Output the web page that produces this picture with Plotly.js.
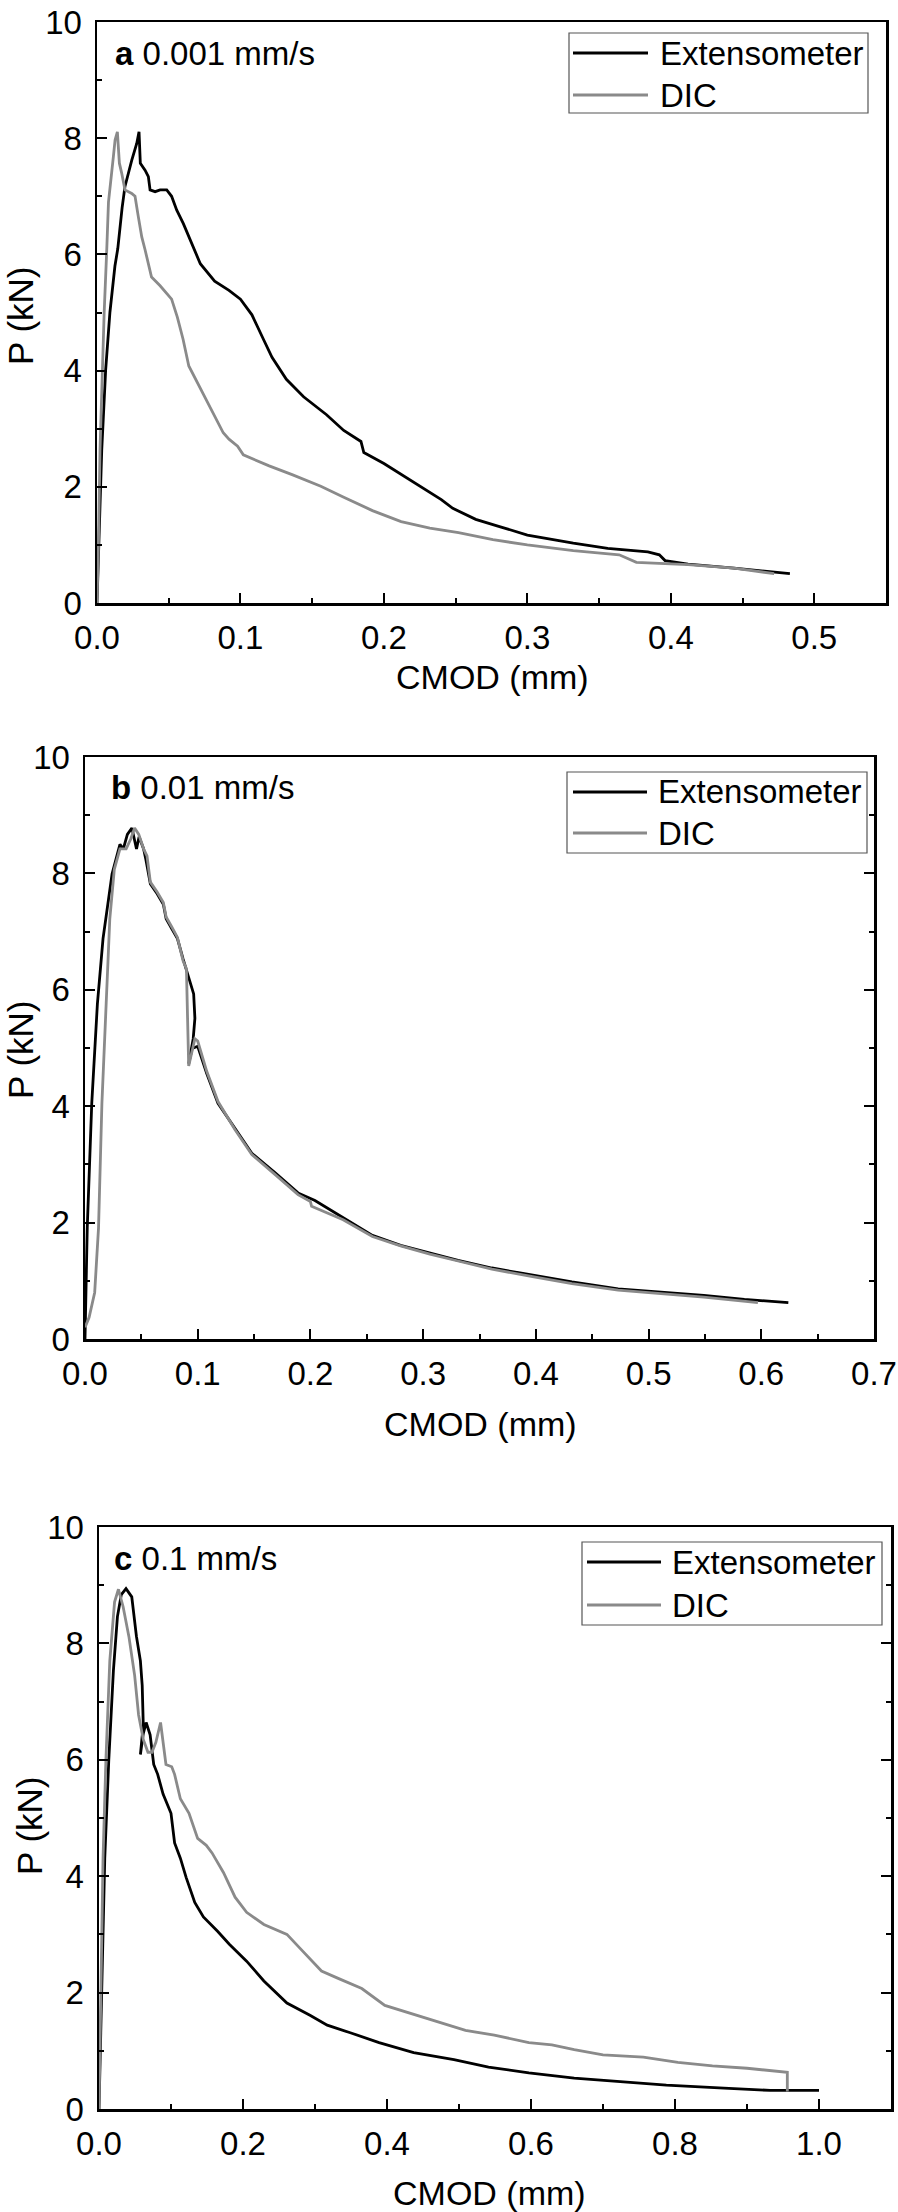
<!DOCTYPE html>
<html>
<head>
<meta charset="utf-8">
<script src="https://cdn.plot.ly/plotly-3.0.1.min.js"></script>
<style>html,body{margin:0;padding:0;background:#fff;}#chart{width:898px;height:2212px;}</style>
</head>
<body>
<div id="chart"></div>
<script>
// ---------- Data ----------
// Panel a : 0.001 mm/s
const extA_x = [0,0.0015,0.0033,0.006,0.009,0.0125,0.0145,0.0175,0.0195,0.0242,0.0277,0.0293,0.0302,0.0335,0.0358,0.037,0.0405,0.044,0.0486,0.052,0.0556,0.0602,0.0649,0.072,0.082,0.092,0.1,0.108,0.116,0.122,0.132,0.144,0.16,0.172,0.184,0.186,0.2,0.22,0.24,0.248,0.264,0.28,0.3,0.332,0.356,0.384,0.392,0.396,0.412,0.444,0.483];
const extA_y = [0,1.2,2.63,4.0,5.0,5.8,6.1,6.8,7.17,7.62,7.91,8.11,7.57,7.45,7.34,7.11,7.08,7.11,7.11,7.0,6.76,6.53,6.25,5.84,5.54,5.38,5.23,4.96,4.54,4.23,3.85,3.55,3.24,2.97,2.78,2.59,2.40,2.09,1.78,1.63,1.44,1.32,1.17,1.03,0.94,0.88,0.83,0.73,0.67,0.60,0.505];
const dicA_x = [0,0.001,0.0021,0.0035,0.005,0.0068,0.008,0.0114,0.0126,0.0142,0.0156,0.0172,0.0195,0.0242,0.0265,0.0288,0.0312,0.0335,0.038,0.044,0.052,0.056,0.06,0.064,0.072,0.08,0.088,0.092,0.098,0.102,0.12,0.136,0.156,0.172,0.192,0.212,0.232,0.252,0.276,0.3,0.332,0.364,0.376,0.412,0.444,0.472];
const dicA_y = [0,1.0,2.63,4.0,5.0,6.08,6.9,7.68,7.97,8.11,7.57,7.40,7.11,7.05,7.0,6.65,6.3,6.08,5.61,5.46,5.23,4.92,4.54,4.08,3.70,3.32,2.93,2.82,2.70,2.55,2.36,2.21,2.01,1.82,1.59,1.40,1.29,1.21,1.09,1.0,0.90,0.83,0.70,0.66,0.60,0.505];

// Panel b : 0.01 mm/s
const extB_x = [0,0.002,0.006,0.011,0.016,0.024,0.031,0.034,0.0376,0.0416,0.0457,0.048,0.052,0.054,0.058,0.064,0.0695,0.072,0.077,0.082,0.087,0.092,0.0964,0.0975,0.096,0.092,0.095,0.1,0.108,0.118,0.133,0.148,0.169,0.189,0.204,0.229,0.255,0.28,0.306,0.331,0.361,0.397,0.432,0.473,0.509,0.549,0.585,0.624];
const extB_y = [0,1.91,4.05,5.76,6.88,7.99,8.50,8.42,8.67,8.78,8.42,8.63,8.42,8.24,7.82,7.65,7.47,7.22,7.05,6.88,6.53,6.19,5.93,5.51,5.16,4.73,4.99,5.03,4.56,4.05,3.62,3.19,2.85,2.51,2.38,2.08,1.78,1.61,1.48,1.35,1.22,1.10,0.98,0.86,0.81,0.75,0.68,0.625];
const dicB_x = [0,0.0036,0.0086,0.012,0.015,0.019,0.022,0.026,0.031,0.0365,0.0406,0.044,0.0477,0.052,0.055,0.058,0.064,0.0695,0.072,0.077,0.082,0.087,0.09,0.091,0.092,0.0975,0.1,0.108,0.118,0.133,0.148,0.169,0.189,0.2,0.201,0.229,0.255,0.28,0.306,0.331,0.361,0.397,0.432,0.473,0.509,0.549,0.597];
const dicB_y = [0.2,0.37,0.80,1.91,4.05,5.76,7.22,8.07,8.42,8.42,8.59,8.78,8.67,8.42,8.3,7.85,7.68,7.5,7.25,7.08,6.9,6.5,6.36,5.51,4.69,5.16,5.12,4.6,4.08,3.6,3.17,2.82,2.48,2.36,2.28,2.05,1.76,1.6,1.46,1.34,1.2,1.07,0.95,0.84,0.78,0.72,0.625];

// Panel c : 0.1 mm/s
const extC_x = [0,0.004,0.008,0.0136,0.02,0.0256,0.031,0.0375,0.0455,0.052,0.0575,0.06,0.0615,0.0575,0.0615,0.0655,0.071,0.076,0.0815,0.089,0.1,0.105,0.113,0.121,0.133,0.145,0.165,0.181,0.205,0.229,0.261,0.293,0.317,0.349,0.389,0.437,0.493,0.541,0.597,0.66,0.724,0.788,0.868,0.932,1.0];
const extC_y = [0,2.2,4.31,6.0,7.53,8.46,8.84,8.94,8.80,8.12,7.70,7.28,6.60,6.09,6.45,6.64,6.43,5.92,5.75,5.41,5.08,4.57,4.31,3.98,3.55,3.30,3.05,2.83,2.54,2.2,1.82,1.61,1.44,1.31,1.14,0.97,0.85,0.72,0.62,0.53,0.47,0.41,0.36,0.32,0.32];
const dicC_x = [0,0.0024,0.0056,0.0096,0.015,0.0216,0.027,0.0335,0.0415,0.0495,0.055,0.0615,0.068,0.0735,0.079,0.0855,0.089,0.093,0.101,0.105,0.113,0.125,0.137,0.149,0.157,0.173,0.189,0.205,0.229,0.261,0.277,0.309,0.333,0.365,0.397,0.421,0.453,0.485,0.509,0.549,0.597,0.629,0.66,0.7,0.756,0.804,0.852,0.9,0.956,0.956];
const dicC_y = [0,2.2,4.31,6.0,7.7,8.71,8.93,8.63,8.12,7.45,6.77,6.35,6.13,6.13,6.30,6.64,6.26,5.92,5.88,5.75,5.33,5.08,4.65,4.53,4.40,4.06,3.64,3.38,3.17,3.0,2.79,2.37,2.24,2.07,1.78,1.69,1.57,1.44,1.35,1.27,1.14,1.10,1.02,0.93,0.89,0.80,0.74,0.70,0.63,0.30];

const seriesNames = ['Extensometer','DIC'];
const panelLabels = ['a','b','c'];
const panelRates = ['0.001 mm/s','0.01 mm/s','0.1 mm/s'];
const xTitle = 'CMOD (mm)';
const yTitle = 'P (kN)';

// ---------- Layout helpers (pixel geometry) ----------
const W = 898, H = 2212;
const fx = p => p / W;
const fy = p => 1 - p / H;
const FONT = 'Liberation Sans, Arial, Helvetica, sans-serif';
const BLACK = '#000000', GREY = '#8a8a8a';

const panels = [
  {L:97,  R:886, T:22,   B:603,  xr:[0,0.55], xd:0.1, xm:0.05, ymirror:true,
   lab:{x:113,y:53}, leg:{x0:569,x1:868,y0:33,y1:113,l1:53,l2:95,s0:573,s1:648,t:658},
   xt:{x:492,y:677}, yt:{x:21,y:316},
   ext:[extA_x,extA_y], dic:[dicA_x,dicA_y]},
  {L:85,  R:874, T:757,  B:1339, xr:[0,0.7], xd:0.1, xm:0.05, ymirror:'ticks',
   lab:{x:109,y:787}, leg:{x0:567,x1:867,y0:772,y1:853,l1:792,l2:833,s0:573,s1:647,t:656},
   xt:{x:480,y:1424}, yt:{x:20,y:1050},
   ext:[extB_x,extB_y], dic:[dicB_x,dicB_y]},
  {L:99,  R:891, T:1527, B:2109, xr:[0,1.1], xd:0.2, xm:0.1, ymirror:'ticks',
   lab:{x:112,y:1558}, leg:{x0:582,x1:882,y0:1542,y1:1625,l1:1562,l2:1605,s0:587,s1:661,t:670},
   xt:{x:490,y:2193}, yt:{x:29,y:1826},
   ext:[extC_x,extC_y], dic:[dicC_x,dicC_y]}
];

const traces = [];
const layout = {
  width: W, height: H,
  margin: {l:0, r:0, t:0, b:0, pad:0},
  paper_bgcolor: '#fff', plot_bgcolor: '#fff',
  showlegend: false,
  font: {family: FONT, size: 33, color: BLACK},
  annotations: [], shapes: []
};

panels.forEach((p, i) => {
  const n = i === 0 ? '' : String(i + 1);
  const xa = 'x' + n, ya = 'y' + n;
  traces.push({x: p.ext[0], y: p.ext[1], type: 'scatter', mode: 'lines', name: seriesNames[0],
               xaxis: xa, yaxis: ya, line: {color: BLACK, width: 2.8}});
  traces.push({x: p.dic[0], y: p.dic[1], type: 'scatter', mode: 'lines', name: seriesNames[1],
               xaxis: xa, yaxis: ya, line: {color: GREY, width: 2.8}});
  const common = {
    showgrid: false, zeroline: false, showline: true, linecolor: BLACK, linewidth: 2.5,
    ticks: 'inside', ticklen: 10, tickwidth: 2, tickcolor: BLACK,
    tickfont: {family: FONT, size: 33, color: BLACK}, fixedrange: true
  };
  layout['xaxis' + n] = Object.assign({}, common, {
    domain: [fx(p.L), fx(p.R)], anchor: ya, range: p.xr, tick0: 0, dtick: p.xd,
    tickformat: '.1f', mirror: true, ticklabelstandoff: 4,
    minor: {ticks: 'inside', dtick: p.xm, tick0: 0, ticklen: 5, tickwidth: 2, tickcolor: BLACK, showgrid: false}
  });
  layout['yaxis' + n] = Object.assign({}, common, {
    domain: [fy(p.B), fy(p.T)], anchor: xa, range: [0, 10], tick0: 0, dtick: 2,
    tickformat: 'd', mirror: p.ymirror, ticklabelstandoff: 6,
    minor: {ticks: 'inside', dtick: 1, tick0: 0, ticklen: 5, tickwidth: 2, tickcolor: BLACK, showgrid: false}
  });
  // panel label
  layout.annotations.push({xref: 'paper', yref: 'paper', x: fx(p.lab.x), y: fy(p.lab.y),
    xanchor: 'left', yanchor: 'middle', showarrow: false,
    text: '<b>' + panelLabels[i] + '</b> ' + panelRates[i], font: {family: FONT, size: 33, color: BLACK}});
  // axis titles
  layout.annotations.push({xref: 'paper', yref: 'paper', x: fx(p.xt.x), y: fy(p.xt.y),
    xanchor: 'center', yanchor: 'middle', showarrow: false, text: xTitle, borderpad: 0,
    font: {family: FONT, size: 34, color: BLACK}});
  layout.annotations.push({xref: 'paper', yref: 'paper', x: fx(p.yt.x), y: fy(p.yt.y),
    xanchor: 'center', yanchor: 'middle', showarrow: false, text: yTitle, textangle: -90,
    font: {family: FONT, size: 35, color: BLACK}});
  // legend box
  const g = p.leg;
  layout.shapes.push({type: 'rect', xref: 'paper', yref: 'paper',
    x0: fx(g.x0), x1: fx(g.x1), y0: fy(g.y1), y1: fy(g.y0),
    line: {color: '#555', width: 1.2}, fillcolor: 'rgba(255,255,255,1)'});
  [[g.l1, BLACK, 0], [g.l2, GREY, 1]].forEach(([yy, col, k]) => {
    layout.shapes.push({type: 'line', xref: 'paper', yref: 'paper',
      x0: fx(g.s0), x1: fx(g.s1), y0: fy(yy), y1: fy(yy), line: {color: col, width: 3}});
    layout.annotations.push({xref: 'paper', yref: 'paper', x: fx(g.t), y: fy(yy),
      xanchor: 'left', yanchor: 'middle', showarrow: false, text: seriesNames[k],
      font: {family: FONT, size: 33, color: BLACK}});
  });
});

Plotly.newPlot('chart', traces, layout, {staticPlot: true, displayModeBar: false});
</script>
</body>
</html>
